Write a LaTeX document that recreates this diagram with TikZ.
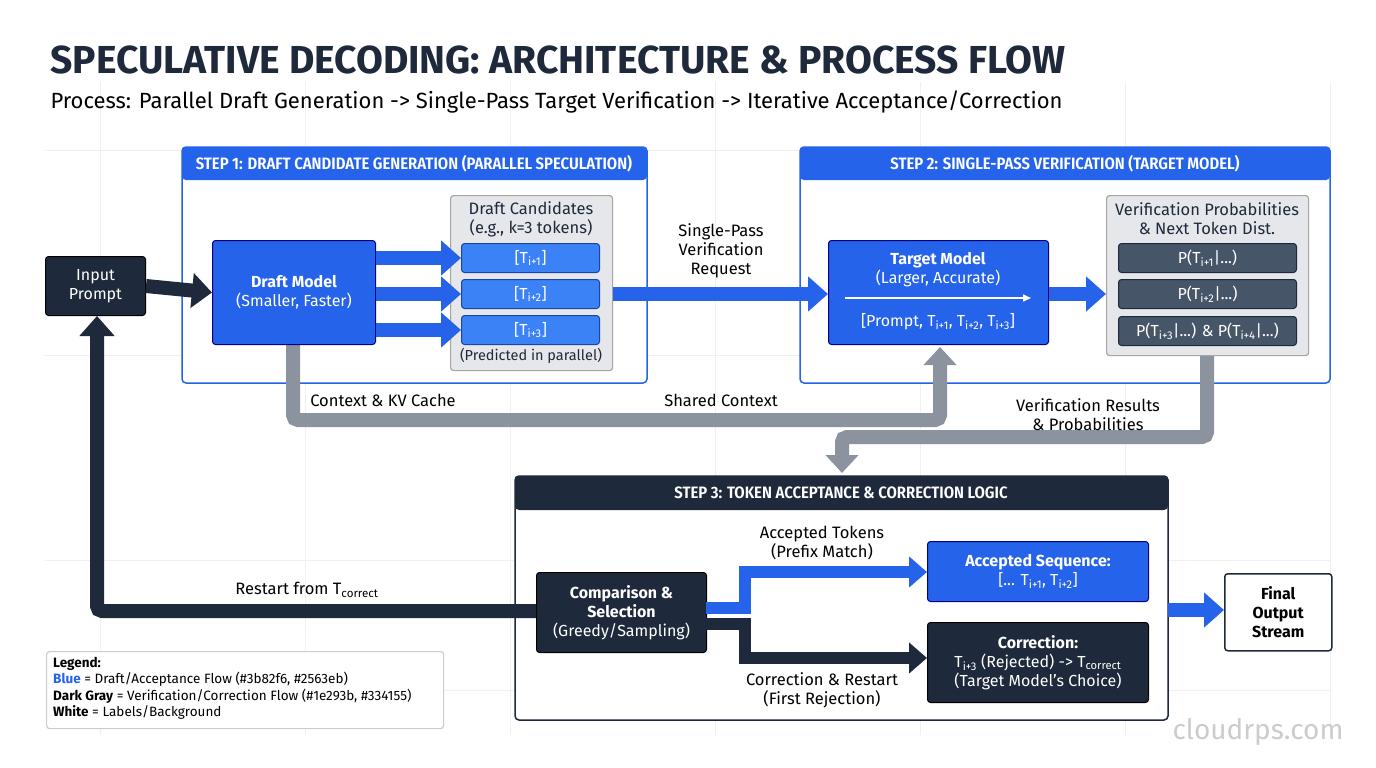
\documentclass[tikz,border=0pt]{standalone}
\usepackage{fontspec}
\setmainfont{Fira Sans}
\newfontfamily\cond{Fira Sans Condensed}[BoldFont={Fira Sans Condensed SemiBold}]
\usetikzlibrary{arrows.meta}
\definecolor{blueA}{HTML}{2563EB}
\definecolor{blueB}{HTML}{3B82F6}
\definecolor{dark}{HTML}{1E293B}
\definecolor{slate}{HTML}{475569}
\definecolor{gloop}{HTML}{8B939E}
\definecolor{pale}{HTML}{E5E7EB}
\newcommand{\sub}[1]{\textsubscript{#1}}
\tikzset{
 bx/.style={anchor=north west,rounded corners=3pt,align=center,inner sep=0pt,font=\fontsize{16}{19}\selectfont},
 blue box/.style={bx,fill=blueA,draw=blue!50!black,line width=1pt,text=white},
 tok/.style={bx,fill=blueB,draw=blueA!70!black,line width=1pt,text=white},
 dark box/.style={bx,fill=dark,draw=black,line width=1pt,text=white},
 prob/.style={bx,fill=slate,draw=dark,line width=1pt,text=white},
 grp/.style={bx,fill=pale,draw=gray!70,line width=1.2pt,text=dark},
 stepframe/.style={draw=#1,line width=1.5pt,rounded corners=4pt,fill=white},
 hdr/.style={text=white,font=\cond\bfseries\fontsize{16.5}{18}\selectfont},
 lbl/.style={align=center,text=black,font=\fontsize{16.5}{19}\selectfont},
 fat/.style={line width=14pt,-{Triangle[length=20pt,width=34pt]}},
 fatb/.style={fat,draw=blueA},
}
\begin{document}
\begin{tikzpicture}[x=1pt,y=-1pt]
\useasboundingbox (0,0) rectangle (1376,768);
\fill[white] (0,0) rectangle (1376,768);
% grid
\foreach \x in {100,305,510,715,920,1125,1330} \draw[gray!12,line width=0.8pt] (\x,82) -- (\x,735);
\foreach \y in {150,355,560,690} \draw[gray!12,line width=0.8pt] (45,\y) -- (1330,\y);
% title
\node[anchor=west,text=dark,font=\bfseries\fontsize{39}{44}\selectfont] (title) at (47,60) {SPECULATIVE DECODING: ARCHITECTURE \& PROCESS FLOW};
\node[anchor=west,text=black,font=\fontsize{22}{26}\selectfont] (sub) at (47,102) {Process: Parallel Draft Generation -> Single-Pass Target Verification -> Iterative Acceptance/Correction};
% step frames
\draw[stepframe=blueA] (182,147) rectangle (647,383);
\fill[blueA,rounded corners=4pt] (182,147) rectangle (647,180);
\node[hdr] (h1) at (414,164) {STEP 1: DRAFT CANDIDATE GENERATION (PARALLEL SPECULATION)};
\draw[stepframe=blueA] (800,147) rectangle (1330,383);
\fill[blueA,rounded corners=4pt] (800,147) rectangle (1330,180);
\node[hdr] (h2) at (1065,164) {STEP 2: SINGLE-PASS VERIFICATION (TARGET MODEL)};
% loops (behind)
\draw[gloop,line width=14pt,rounded corners=5pt,-{Triangle[length=18pt,width=32pt]}] (293,344) -- (293,420) -- (940,420) -- (940,347);
\draw[gloop,line width=14pt,rounded corners=5pt,-{Triangle[length=18pt,width=32pt]}] (1207,355) -- (1207,437) -- (842,437) -- (842,473);
\node[lbl,fill=white,inner sep=1pt] (l1) at (383,400) {Context \& KV Cache};
\node[lbl,fill=white,inner sep=1pt] (l2) at (721,400) {Shared Context};
\node[lbl] (l3) at (1088,415) {Verification Results\\\& Probabilities};
% step 1 nodes
\node[dark box,minimum width=100pt,minimum height=59pt] (inp) at (45,256) {Input\\Prompt};
\node[blue box,minimum width=163pt,minimum height=104pt] (draft) at (212,240) {\textbf{Draft Model}\\(Smaller, Faster)};
\node[grp,minimum width=162pt,minimum height=175pt] (cands) at (450,195) {};
\node[lbl,text=dark] (ct) at (531,219) {Draft Candidates\\(e.g., k=3 tokens)};
\node[tok,minimum width=138pt,minimum height=29pt] (t1) at (461,243) {[T\sub{i+1}]};
\node[tok,minimum width=138pt,minimum height=29pt] (t2) at (461,279) {[T\sub{i+2}]};
\node[tok,minimum width=138pt,minimum height=29pt] (t3) at (461,315) {[T\sub{i+3}]};
\node[lbl,text=dark,font=\fontsize{14.5}{16}\selectfont] (pp) at (531,356) {(Predicted in parallel)};
\draw[fat,draw=dark] (inp.east) -- (draft.west);
\draw[fatb] (draft.east|-t1) -- (t1.west);
\draw[fatb] (draft.east|-t2) -- (t2.west);
\draw[fatb] (draft.east|-t3) -- (t3.west);
% step 2 nodes
\node[blue box,minimum width=220pt,minimum height=104pt] (target) at (828,240) {};
\node[text=white,align=center,font=\fontsize{16}{19}\selectfont] (tt) at (938,270) {\textbf{Target Model}\\(Larger, Accurate)};
\coordinate (ia) at (845,298); \coordinate (ib) at (1031,298);
\draw[white,line width=1.5pt,-{Triangle[length=8pt,width=7pt]}] (ia) -- (ib);
\node[text=white,font=\fontsize{16}{19}\selectfont] (tp) at (938,322) {[Prompt, T\sub{i+1}, T\sub{i+2}, T\sub{i+3}]};
\node[grp,minimum width=202pt,minimum height=160pt] (ver) at (1106,195) {};
\node[lbl,text=dark] (vt) at (1207,219) {Verification Probabilities\\\& Next Token Dist.};
\node[prob,minimum width=178pt,minimum height=29pt] (p1) at (1118,243) {P(T\sub{i+1}|...)};
\node[prob,minimum width=178pt,minimum height=29pt] (p2) at (1118,279) {P(T\sub{i+2}|...)};
\node[prob,minimum width=178pt,minimum height=29pt] (p3) at (1118,316) {P(T\sub{i+3}|...) \& P(T\sub{i+4}|...)};
\draw[fatb] (cands.east|-t2) -- (target.west|-t2);
\node[lbl] (svr) at (721,251) {Single-Pass\\Verification\\Request};
\draw[fatb] (target.east|-t2) -- (ver.west|-t2);
% step 3
\draw[stepframe=dark] (515,476) rectangle (1168,720);
\fill[dark,rounded corners=4pt] (515,476) rectangle (1168,510);
\node[hdr] (h3) at (841,493) {STEP 3: TOKEN ACCEPTANCE \& CORRECTION LOGIC};
\node[dark box,minimum width=170pt,minimum height=80pt] (cmp) at (536,572) {\textbf{Comparison \&}\\\textbf{Selection}\\(Greedy/Sampling)};
\node[blue box,minimum width=221pt,minimum height=60pt] (acc) at (927,541) {\textbf{Accepted Sequence:}\\{}[... T\sub{i+1}, T\sub{i+2}]};
\node[dark box,minimum width=221pt,minimum height=80pt] (cor) at (927,622) {\textbf{Correction:}\\T\sub{i+3} (Rejected) -> T\sub{correct}\\(Target Model's Choice)};
\node[bx,fill=white,draw=dark,line width=1.5pt,minimum width=107pt,minimum height=77pt,text=black] (fin) at (1224,573) {\textbf{Final}\\\textbf{Output}\\\textbf{Stream}};
\draw[line width=12pt,draw=dark,-{Triangle[length=18pt,width=30pt]}] (706,624) -- (745,624) -- (745,658) -- (cor.west|-0,658);
\draw[line width=12pt,draw=blueA,-{Triangle[length=18pt,width=30pt]}] (706,608) -- (745,608) -- (745,572) -- (acc.west|-0,572);
\node[lbl] (la) at (822,543) {Accepted Tokens\\(Prefix Match)};
\node[lbl] (lc) at (822,690) {Correction \& Restart\\(First Rejection)};
\draw[fatb] (1168,610) -- (fin.west|-0,610);
% restart loop
\draw[dark,line width=14pt,rounded corners=5pt,-{Triangle[length=20pt,width=34pt]}] (cmp.west|-0,611) -- (97,611) -- (inp.south-|97,0);
\node[lbl] (rs) at (307,590) {Restart from T\sub{correct}};
% legend
\node[bx,fill=white,draw=gray!40,line width=1.2pt,minimum width=397pt,minimum height=77pt] (leg) at (46,651) {};
\node[anchor=north west,align=left,inner sep=0pt,text=black,font=\fontsize{13.5}{16.5}\selectfont] (legt) at (53,657) {\textbf{Legend:}\\\textcolor{blueA}{\textbf{Blue}} = Draft/Acceptance Flow (\#3b82f6, \#2563eb)\\\textbf{Dark Gray} = Verification/Correction Flow (\#1e293b, \#334155)\\\textbf{White} = Labels/Background};
\node[text=gray!40,font=\fontsize{28}{30}\selectfont] (wm) at (1258,732) {cloudrps.com};
\end{tikzpicture}
\end{document}
